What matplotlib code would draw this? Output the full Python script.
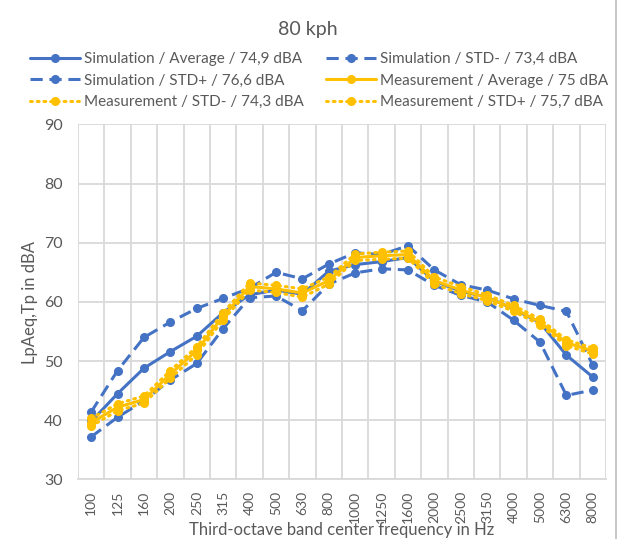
import numpy as np
import matplotlib
matplotlib.use("Agg")
import matplotlib.pyplot as plt
from matplotlib.lines import Line2D

plt.rcParams.update({"font.family": ["Lato", "DejaVu Sans"], "font.size": 11})

freqs = ["100", "125", "160", "200", "250", "315", "400", "500", "630", "800",
         "1000", "1250", "1600", "2000", "2500", "3150", "4000", "5000", "6300", "8000"]
sim_avg = [39.8, 44.5, 48.8, 51.6, 54.2, 58.2, 61.2, 62.0, 61.3, 65.2,
           66.3, 66.8, 67.5, 63.5, 61.8, 60.8, 58.8, 56.5, 51.0, 47.3]
sim_minus = [37.2, 40.5, 43.3, 46.8, 49.6, 55.5, 60.7, 61.0, 58.5, 63.0,
             64.9, 65.6, 65.4, 62.8, 61.1, 60.0, 56.9, 53.2, 44.2, 45.1]
sim_plus = [41.4, 48.4, 54.0, 56.6, 58.9, 60.6, 62.3, 65.0, 63.9, 66.4,
            68.3, 68.0, 69.5, 65.4, 62.9, 62.0, 60.5, 59.4, 58.4, 49.3]
meas_avg = [39.6, 42.2, 43.5, 47.8, 51.8, 57.6, 62.6, 62.2, 61.5, 63.6,
            67.5, 67.8, 68.0, 63.6, 62.0, 60.7, 58.9, 56.6, 53.1, 51.7]
meas_minus = [39.0, 41.6, 42.9, 47.1, 51.1, 57.0, 62.0, 61.6, 60.8, 63.0,
              67.0, 67.2, 67.4, 63.0, 61.4, 60.2, 58.4, 56.1, 52.6, 51.2]
meas_plus = [40.3, 42.8, 44.1, 48.4, 52.4, 58.2, 63.2, 62.8, 62.2, 64.2,
             68.1, 68.4, 68.6, 64.2, 62.6, 61.2, 59.4, 57.1, 53.6, 52.2]

BLUE, GOLD, TXT, GRID = "#4472C4", "#FFC000", "#595959", "#D9D9D9"
W, H = 622, 539

fig = plt.figure(figsize=(W/100, H/100), dpi=100)
ax = fig.add_axes([78/W, 1-479.4/H, (606-78)/W, (479.4-124.4)/H])
x = np.arange(len(freqs))

dash = (0, (4, 2.2))
dot = (0, (0.6, 1.6))
kw = dict(lw=2.2, marker="o", ms=5.5, solid_capstyle="round", dash_capstyle="butt")
h1, = ax.plot(x, sim_avg, color=BLUE, ls="-", label="Simulation / Average / 74,9 dBA", **kw)
h2, = ax.plot(x, sim_minus, color=BLUE, ls=dash, label="Simulation / STD- / 73,4 dBA", **kw)
h3, = ax.plot(x, sim_plus, color=BLUE, ls=dash, label="Simulation / STD+ / 76,6 dBA", **kw)
h4, = ax.plot(x, meas_avg, color=GOLD, ls="-", label="Measurement / Average / 75 dBA", **kw)
kwd = dict(kw, dash_capstyle="round")
h5, = ax.plot(x, meas_minus, color=GOLD, ls=dot, label="Measurement / STD- / 74,3 dBA", **kwd)
h6, = ax.plot(x, meas_plus, color=GOLD, ls=dot, label="Measurement / STD+ / 75,7 dBA", **kwd)

ax.set_xlim(-0.5, len(freqs)-0.5)
ax.set_ylim(30, 90)
ax.set_yticks(range(30, 91, 10))
ax.set_xticks(x)
ax.set_xticklabels(freqs, rotation=90)
ax.tick_params(axis="both", length=0, colors=TXT)
ax.tick_params(axis="y", pad=11, labelsize=11.5)
ax.tick_params(axis="x", pad=8, labelsize=10)
ax.set_xticks(np.arange(-0.5, len(freqs), 1), minor=True)
ax.tick_params(axis="x", which="minor", length=0)
ax.grid(True, axis="y", color=GRID, lw=1.3)
ax.grid(True, axis="x", which="minor", color=GRID, lw=1.3)
ax.grid(False, axis="x", which="major")
ax.set_axisbelow(True)
for s in ax.spines.values():
    s.set_visible(False)
ax.spines["bottom"].set_visible(True)
ax.spines["bottom"].set_color(GRID)
ax.spines["bottom"].set_linewidth(1.3)

fig.text(342/W, 1-535/H, "Third-octave band center frequency in Hz", ha="center",
         va="baseline", color=TXT, fontsize=12)
fig.text(30/W, 1-302/H, "LpAeq,Tp in dBA", ha="center", va="center",
         rotation=90, color=TXT, fontsize=12)

fig.text(308/W, 1-30/H, "80 kph", ha="center", va="center", color=TXT, fontsize=14)

handles = [h1, h3, h5, h2, h4, h6]
fig.legend(handles=handles, labels=[h.get_label() for h in handles], ncol=2,
           loc="upper left", bbox_to_anchor=(30/W, 1-52/H), frameon=False,
           fontsize=11, labelcolor=TXT, handlelength=3.3, handletextpad=0.25,
           columnspacing=1.4, labelspacing=0.5, borderaxespad=0, borderpad=0)

fig.add_artist(Line2D([616/W, 616/W], [0, 1], color="#BFBFBF", lw=1.2, transform=fig.transFigure))

fig.savefig("out.png", dpi=100)
